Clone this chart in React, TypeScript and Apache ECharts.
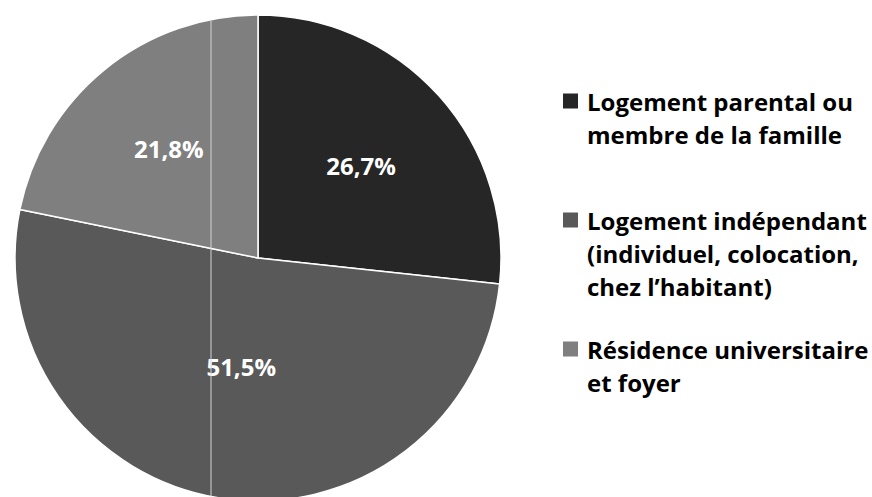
import React, { useEffect, useRef } from "react";
import * as echarts from "echarts";

const categoryLines: string[][] = [
  ["Logement parental ou", "membre de la famille"],
  ["Logement indépendant", "(individuel, colocation,", "chez l’habitant)"],
  ["Résidence universitaire", "et foyer"],
];
const categories = categoryLines.map((l) => l.join(" "));
const values = [26.7, 51.5, 21.8];
const valueLabels = ["26,7%", "51,5%", "21,8%"];
const colors = ["#262626", "#595959", "#7f7f7f"];

const FONT = "'Open Sans', Lato, 'DejaVu Sans', sans-serif";
const CX = 258;
const CY = 258;
const R = 243;
const LINE_H = 33;
const SQ = 15;
const legendFirstLineY = [101, 220, 349];
const labelRadiusFrac = [0.57, 0.45, 0.58];

export default function App() {
  const ref = useRef<HTMLDivElement>(null);
  useEffect(() => {
    document.body.style.margin = "0";
    const chart = echarts.init(ref.current!, null, { renderer: "svg" });
    const legends = categories.map((name, i) => {
      const n = categoryLines[i].length;
      const textH = n * LINE_H;
      const H = textH - 2 * (LINE_H / 2 - SQ / 2);
      return {
        data: [{ name, icon: `path://M0,0L${SQ},0L${SQ},${SQ}L0,${SQ}Z M0,${H}L0.01,${H}` }],
        left: 563,
        top: legendFirstLineY[i] - LINE_H / 2,
        padding: 0,
        itemWidth: SQ,
        itemHeight: H,
        selectedMode: false,
        itemStyle: { borderWidth: 0 },
        formatter: () => categoryLines[i].join("\n"),
        textStyle: {
          fontFamily: FONT,
          fontWeight: "bold",
          fontSize: 24,
          lineHeight: LINE_H,
          color: "#000",
          padding: [0, 0, 0, 4],
        },
      };
    });
    const dx = 211 - CX;
    const dy = Math.sqrt(R * R - dx * dx);
    chart.setOption({
      animation: false,
      backgroundColor: "#fff",
      legend: legends,
      series: [
        {
          type: "pie",
          center: [CX, CY],
          radius: R,
          startAngle: 90,
          clockwise: true,
          color: colors,
          itemStyle: { borderColor: "#fff", borderWidth: 1.5 },
          label: {
            show: true,
            position: "inside",
            color: "#fff",
            fontFamily: FONT,
            fontWeight: "bold",
            fontSize: 24,
            formatter: (p: any) => valueLabels[p.dataIndex],
          },
          labelLayout: (p: any) => {
            const r = p.labelRect;
            const lx = r.x + r.width / 2;
            const ly = r.y + r.height / 2;
            const vx = lx - CX;
            const vy = ly - CY;
            const d = Math.sqrt(vx * vx + vy * vy) || 1;
            const k = (labelRadiusFrac[p.dataIndex] * R) / d;
            return { dx: vx * k - vx, dy: vy * k - vy };
          },
          labelLine: { show: false },
          emphasis: { disabled: true },
          data: categories.map((name, i) => ({ name, value: values[i] })),
        },
      ],
      graphic: [
        {
          type: "line",
          z: 100,
          silent: true,
          shape: { x1: 211, y1: CY - dy, x2: 211, y2: CY + dy },
          style: { stroke: "#d4d4d4", lineWidth: 1 },
        },
      ],
    });
    return () => chart.dispose();
  }, []);
  return <div ref={ref} style={{ width: 872, height: 497 }} />;
}
